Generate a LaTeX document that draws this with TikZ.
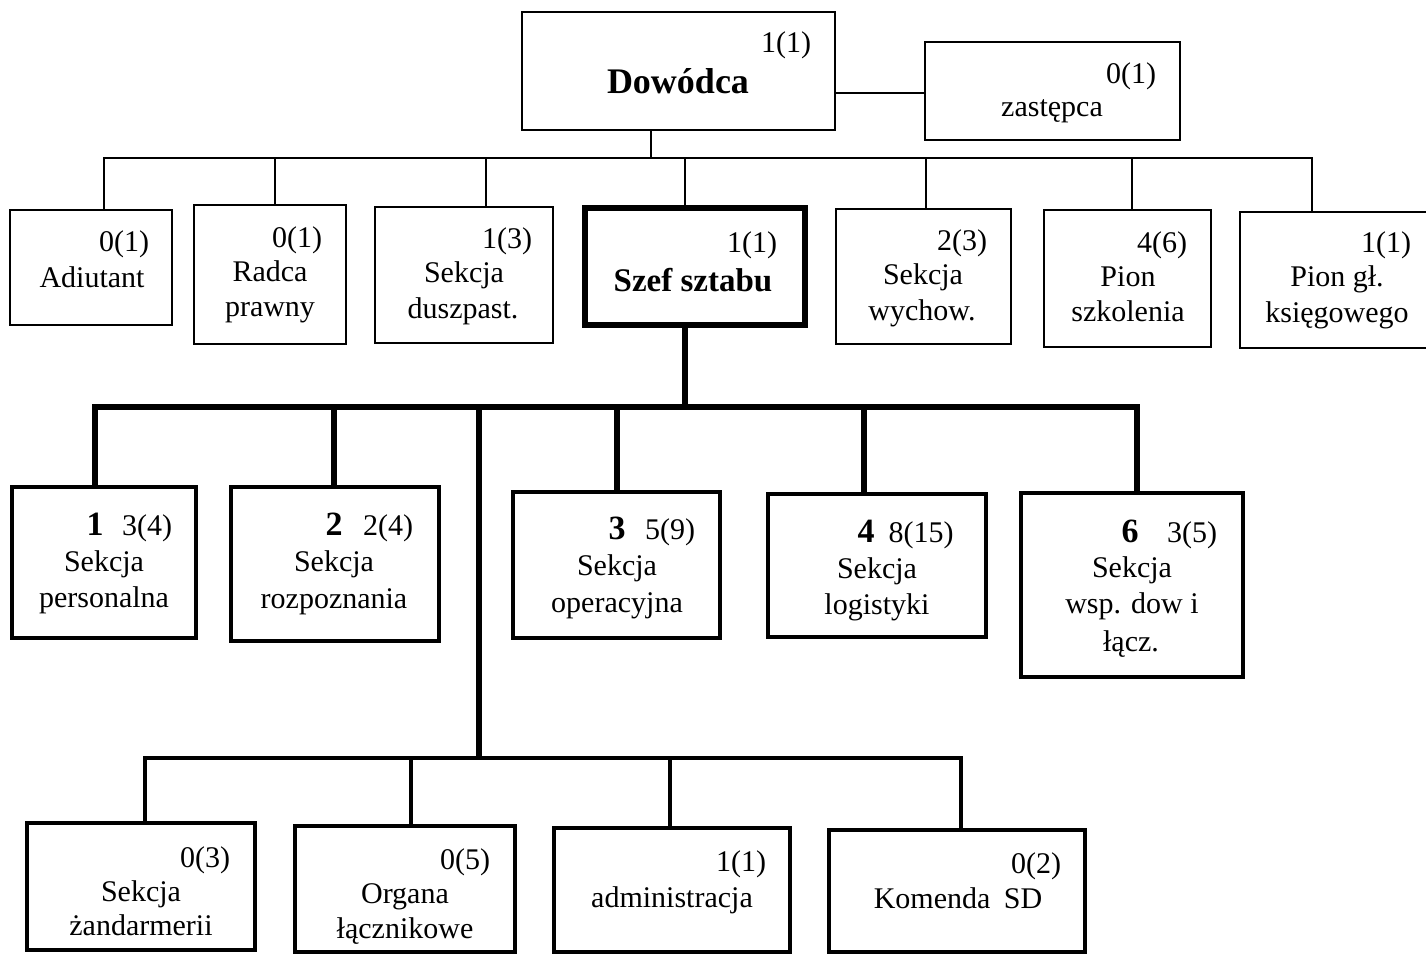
\documentclass[tikz,border=0pt]{standalone}
\usepackage{fontspec}
\setmainfont{Liberation Serif}
\newcommand\orgbox[6]{\node[#6, minimum width={(#4-#2)*0.5pt}, minimum height={(#5-#3)*0.5pt}] (#1) at ({(#2+#4)/2},{(#3+#5)/2}) {};}
\begin{document}
\begin{tikzpicture}[x=0.5pt,y=-0.5pt,
  box/.style={draw, rectangle, inner sep=0pt, line width=1pt},
  thickbox/.style={box, line width=3pt},
  midbox/.style={box, line width=1.8pt},
  lowbox/.style={box, line width=1.6pt},
  tx/.style={anchor=base, inner sep=0pt, font=\fontsize{15}{18}\selectfont},
  bt/.style={anchor=base, inner sep=0pt, font=\fontsize{17}{20}\selectfont\bfseries},
  thin/.style={line width=1pt},
  fat/.style={line width=2.6pt, line join=miter},
  med/.style={line width=2.2pt, line join=miter}]
\useasboundingbox (0,0) rectangle (1426,954);

% ---------- level 1
\orgbox{dow}{522}{12}{835}{130}{box}
\orgbox{zas}{925}{42}{1180}{140}{box}
\node[tx] (dowN) at (786,52) {1(1)};
\node[anchor=base, inner sep=0pt, font=\fontsize{18}{20}\selectfont\bfseries] (dowT) at (678,93) {Dowódca};
\node[tx] (zasN) at (1131,83) {0(1)};
\node[tx] (zasT) at (1052,116) {zastępca};
\draw[thin] (dow.east |- 0,93) -- (zas.west |- 0,93);

% ---------- level 2
\orgbox{adi}{10}{210}{172}{325}{box}
\orgbox{rad}{194}{205}{346}{344}{box}
\orgbox{dus}{375}{207}{553}{343}{box}
\orgbox{szef}{585}{208}{805}{325}{thickbox}
\orgbox{wyc}{836}{209}{1011}{344}{box}
\orgbox{szk}{1044}{210}{1211}{347}{box}
\orgbox{ksi}{1240}{212}{1432}{348}{box}

\node[tx] (adiN) at (124,251) {0(1)};
\node[tx] (adiT) at (92,287) {Adiutant};
\node[tx] (radN) at (297,247) {0(1)};
\node[tx] (radT1) at (270,281) {Radca};
\node[tx] (radT2) at (270,316) {prawny};
\node[tx] (dusN) at (507,248) {1(3)};
\node[tx] (dusT1) at (464,282) {Sekcja};
\node[tx] (dusT2) at (463,318) {duszpast.};
\node[tx] (szefN) at (752,252) {1(1)};
\node[anchor=base, inner sep=0pt, font=\fontsize{16.5}{20}\selectfont\bfseries] (szefT) at (693,291) {Szef sztabu};
\node[tx] (wycN) at (962,250) {2(3)};
\node[tx] (wycT1) at (923,284) {Sekcja};
\node[tx] (wycT2) at (922,320) {wychow.};
\node[tx] (szkN) at (1162,252) {4(6)};
\node[tx] (szkT1) at (1128,286) {Pion};
\node[tx] (szkT2) at (1128,321) {szkolenia};
\node[tx] (ksiN) at (1386,252) {1(1)};
\node[tx] (ksiT1) at (1337,286) {Pion gł.};
\node[tx] (ksiT2) at (1337,322) {księgowego};

\coordinate (b0) at (651,158);
\coordinate (b1) at (104,158);
\coordinate (b2) at (275,158);
\coordinate (b3) at (486,158);
\coordinate (b4) at (685,158);
\coordinate (b5) at (926,158);
\coordinate (b6) at (1132,158);
\coordinate (b7) at (1312,158);
\draw[thin] (b0 |- dow.south) -- (b0);
\draw[thin] (b1 |- adi.north) -- (b1) -- (b7) -- (b7 |- ksi.north);
\foreach \b/\n in {b2/rad, b3/dus, b4/szef, b5/wyc, b6/szk}
  \draw[thin] (\b) -- (\b |- \n.north);

% ---------- level 3
\orgbox{s1}{12}{487}{196}{638}{midbox}
\orgbox{s2}{231}{487}{439}{641}{midbox}
\orgbox{s3}{513}{492}{720}{638}{midbox}
\orgbox{s4}{768}{494}{986}{637}{midbox}
\orgbox{s6}{1021}{493}{1243}{677}{midbox}

\node[bt] (s1B) at (95,535) {1};
\node[tx] (s1N) at (147,535) {3(4)};
\node[tx] (s1T1) at (104,571) {Sekcja};
\node[tx] (s1T2) at (104,607) {personalna};
\node[bt] (s2B) at (334,535) {2};
\node[tx] (s2N) at (388,535) {2(4)};
\node[tx] (s2T1) at (334,571) {Sekcja};
\node[tx] (s2T2) at (334,608) {rozpoznania};
\node[bt] (s3B) at (617,539) {3};
\node[tx] (s3N) at (670,539) {5(9)};
\node[tx] (s3T1) at (617,575) {Sekcja};
\node[tx] (s3T2) at (617,612) {operacyjna};
\node[bt] (s4B) at (866,542) {4};
\node[tx] (s4N) at (921,542) {8(15)};
\node[tx] (s4T1) at (877,578) {Sekcja};
\node[tx] (s4T2) at (877,614) {logistyki};
\node[bt] (s6B) at (1130,542) {6};
\node[tx] (s6N) at (1192,542) {3(5)};
\node[tx] (s6T1) at (1132,577) {Sekcja};
\node[tx] (s6T2) at (1132,613) {wsp. dow i};
\node[tx] (s6T3) at (1131,651) {łącz.};

\coordinate (c0) at (685,407);
\coordinate (c1) at (95,407);
\coordinate (c2) at (334,407);
\coordinate (cm) at (479,407);
\coordinate (c3) at (617,407);
\coordinate (c4) at (864,407);
\coordinate (c6) at (1137,407);
\draw[fat] (c0 |- szef.south) -- (c0);
\draw[fat] (c1 |- s1.north) -- (c1) -- (c6) -- (c6 |- s6.north);
\foreach \c/\n in {c2/s2, c3/s3, c4/s4}
  \draw[fat] (\c) -- (\c |- \n.north);

% ---------- level 4
\orgbox{z1}{27}{823}{255}{950}{lowbox}
\orgbox{z2}{295}{826}{515}{952}{lowbox}
\orgbox{z3}{554}{828}{790}{952}{lowbox}
\orgbox{z4}{829}{830}{1085}{952}{lowbox}

\node[tx] (z1N) at (205,867) {0(3)};
\node[tx] (z1T1) at (141,901) {Sekcja};
\node[tx] (z1T2) at (141,935) {żandarmerii};
\node[tx] (z2N) at (465,869) {0(5)};
\node[tx] (z2T1) at (405,903) {Organa};
\node[tx] (z2T2) at (405,938) {łącznikowe};
\node[tx] (z3N) at (741,871) {1(1)};
\node[tx] (z3T) at (672,907) {administracja};
\node[tx] (z4N) at (1036,873) {0(2)};
\node[tx] (z4T) at (958,908) {Komenda\hspace{0.45em}SD};

\coordinate (e0) at (479,758);
\coordinate (e1) at (145,758);
\coordinate (e2) at (411,758);
\coordinate (e3) at (670,758);
\coordinate (e4) at (961,758);
\draw[fat] (cm) -- (e0);
\draw[med] (e1 |- z1.north) -- (e1) -- (e4) -- (e4 |- z4.north);
\foreach \e/\n in {e2/z2, e3/z3}
  \draw[med] (\e) -- (\e |- \n.north);
\end{tikzpicture}
\end{document}
